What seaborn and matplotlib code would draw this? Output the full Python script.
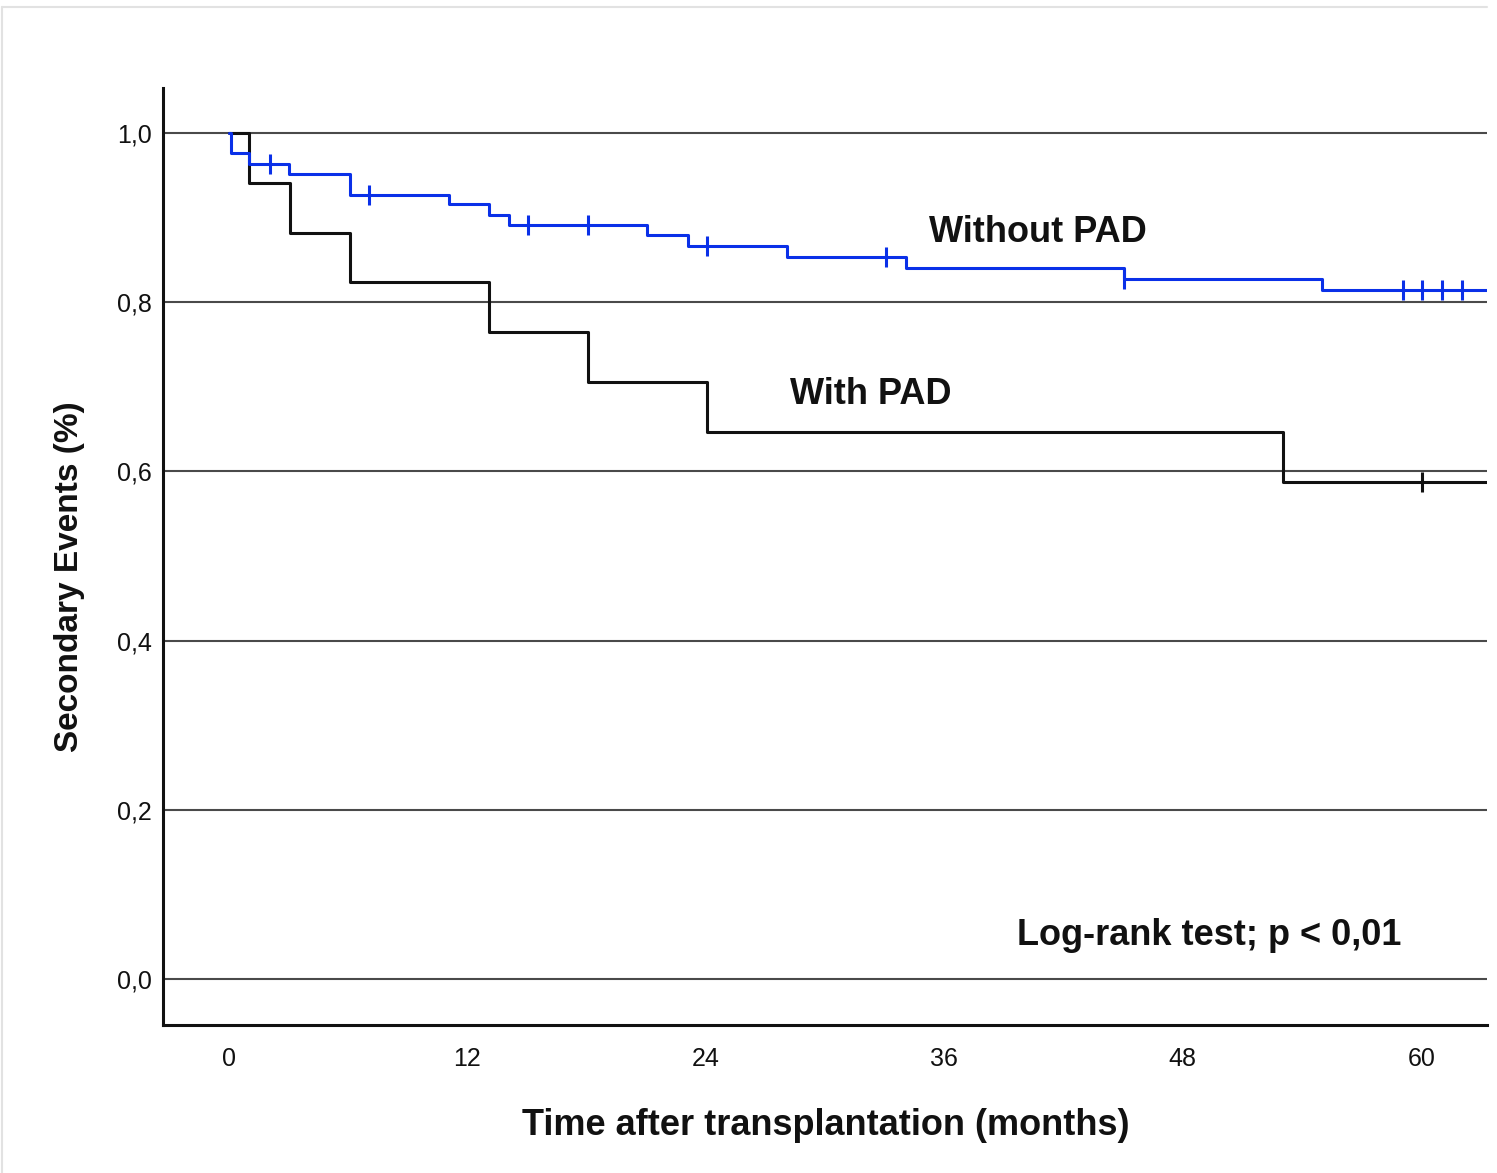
import numpy as np
import pandas as pd
import matplotlib
matplotlib.use("Agg")
import matplotlib.pyplot as plt
from matplotlib.lines import Line2D
import seaborn as sns

# ---------------- data ----------------
without_times = [0.0, 0.08, 1.0, 3.0, 6.1, 11.05, 13.1, 14.1, 21.05, 23.1, 28.07, 34.07, 45.05, 55.0, 64.0]
without_surv = [1.0, 0.976, 0.963, 0.952, 0.927, 0.916, 0.903, 0.891, 0.879, 0.866, 0.853, 0.840, 0.827, 0.814, 0.814]
without_censor = [2.06, 7.06, 15.06, 18.05, 24.06, 33.07, 45.05, 59.07, 60.04, 61.03, 62.04]

with_times = [0.0, 1.0, 3.07, 6.1, 13.1, 18.07, 24.07, 53.03, 64.0]
with_surv = [1.0, 0.941, 0.882, 0.824, 0.765, 0.706, 0.647, 0.588, 0.588]
with_censor = [60.06]

x_ticks = [0, 12, 24, 36, 48, 60]
y_ticks = [0.0, 0.2, 0.4, 0.6, 0.8, 1.0]
y_tick_labels = ["0,0", "0,2", "0,4", "0,6", "0,8", "1,0"]

label_without = "Without PAD"
label_with = "With PAD"
annot_text = "Log-rank test; p < 0,01"
xlabel = "Time after transplantation (months)"
ylabel = "Secondary Events (%)"

BLUE = "#0a30e8"
BLACK = "#111111"

# ---------------- build tables ----------------
def step_lookup(times, surv, t):
    idx = np.searchsorted(np.asarray(times), t, side="right") - 1
    return np.asarray(surv)[idx]

curves = pd.concat([
    pd.DataFrame({"time": without_times, "surv": without_surv, "group": label_without}),
    pd.DataFrame({"time": with_times, "surv": with_surv, "group": label_with}),
], ignore_index=True)

cens = pd.concat([
    pd.DataFrame({"time": without_censor,
                  "surv": step_lookup(without_times, without_surv, without_censor),
                  "group": label_without}),
    pd.DataFrame({"time": with_censor,
                  "surv": step_lookup(with_times, with_surv, with_censor),
                  "group": label_with}),
], ignore_index=True)

palette = {label_without: BLUE, label_with: BLACK}

# ---------------- figure ----------------
sns.set_theme(style="white")
plt.rcParams["font.family"] = ["Liberation Sans", "DejaVu Sans"]

W, H = 1497, 1173
fig = plt.figure(figsize=(W / 100, H / 100), dpi=100)
ax = fig.add_axes([163 / W, 1 - 1025 / H, (1487 - 163) / W, (1025 - 88) / H])

# horizontal reference lines
for yv in y_ticks:
    ax.axhline(yv, color="#4a4a4a", lw=1.5, zorder=1)

for grp in [label_with, label_without]:
    sub = curves[curves["group"] == grp]
    sns.lineplot(data=sub, x="time", y="surv", color=palette[grp], lw=2.2,
                 drawstyle="steps-post", estimator=None, sort=False, ax=ax,
                 legend=False, zorder=3)
    csub = cens[cens["group"] == grp]
    sns.scatterplot(data=csub, x="time", y="surv", color=palette[grp], marker="|",
                    s=190, linewidth=2.2, ax=ax, legend=False, zorder=4)

ax.set_xlim(-3.32, 63.31)
ax.set_ylim(-0.0543, 1.0531)
ax.set_xticks(x_ticks)
ax.set_xticklabels([str(v) for v in x_ticks])
ax.set_yticks(y_ticks)
ax.set_yticklabels(y_tick_labels)
ax.tick_params(axis="both", length=0, labelsize=18, colors="#111111")
ax.tick_params(axis="x", pad=16)
ax.tick_params(axis="y", pad=8)
for lbl in ax.get_yticklabels():
    lbl.set_va("center_baseline")

for s in ["top", "right"]:
    ax.spines[s].set_visible(False)
for s in ["left", "bottom"]:
    ax.spines[s].set_visible(True)
    ax.spines[s].set_color("#111111")
    ax.spines[s].set_linewidth(2.2)

ax.set_xlabel(xlabel, fontsize=26, fontweight="bold", color="#111111")
ax.set_ylabel(ylabel, fontsize=24, fontweight="bold", color="#111111")
ax.xaxis.set_label_coords(0.5008, -0.089)
ax.xaxis.label.set_va("top")
ax.yaxis.set_label_coords(-0.059, 0.478)

ax.text(40.7, 0.8715, label_without, fontsize=26, fontweight="bold", ha="center",
        va="baseline", color="#111111")
ax.text(32.3, 0.6797, label_with, fontsize=26, fontweight="bold", ha="center",
        va="baseline", color="#111111")
ax.text(49.35, 0.0402, annot_text, fontsize=26, fontweight="bold", ha="center",
        va="baseline", color="#111111")

# faint frame of the original screenshot
fig.add_artist(Line2D([2 / W, 1487 / W], [1 - 7 / H, 1 - 7 / H], color="#e2e2e2", lw=1.5,
                      transform=fig.transFigure))
fig.add_artist(Line2D([2 / W, 2 / W], [1 - 7 / H, 0], color="#e2e2e2", lw=1.5,
                      transform=fig.transFigure))

fig.savefig("out.png", dpi=100)
